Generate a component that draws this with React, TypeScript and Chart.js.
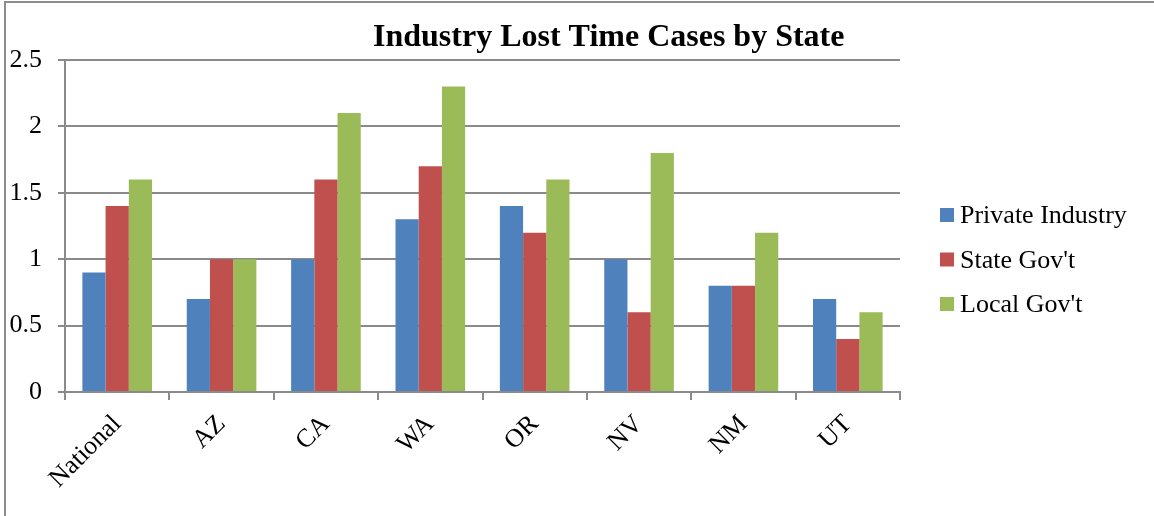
import React, { useEffect, useRef } from "react";
import { Chart, registerables } from "chart.js";

Chart.register(...registerables);

const title = "Industry Lost Time Cases by State";
const categories = ["National", "AZ", "CA", "WA", "OR", "NV", "NM", "UT"];
const privateIndustry = [0.9, 0.7, 1.0, 1.3, 1.4, 1.0, 0.8, 0.7];
const stateGov = [1.4, 1.0, 1.6, 1.7, 1.2, 0.6, 0.8, 0.4];
const localGov = [1.6, 1.0, 2.1, 2.3, 1.6, 1.8, 1.2, 0.6];
const seriesNames = ["Private Industry", "State Gov't", "Local Gov't"];
const seriesColors = ["#4F81BD", "#C0504D", "#9BBB59"];
const yMin = 0;
const yMax = 2.5;
const yStep = 0.5;

const FONT = "'Liberation Serif', 'Times New Roman', serif";
const GRID = "#8a8a8a";

export default function App() {
  const ref = useRef<HTMLCanvasElement | null>(null);

  useEffect(() => {
    document.body.style.margin = "0";
    const canvas = ref.current;
    if (!canvas) return;

    const titlePlugin = {
      id: "customTitle",
      afterDraw(chart: any) {
        const ctx = chart.ctx;
        ctx.save();
        ctx.font = `bold 32px ${FONT}`;
        ctx.fillStyle = "#000";
        ctx.textAlign = "left";
        ctx.textBaseline = "alphabetic";
        ctx.fillText(title, 373, 46);
        ctx.restore();
      },
    };

    const legendPlugin = {
      id: "customLegend",
      afterDraw(chart: any) {
        const ctx = chart.ctx;
        ctx.save();
        ctx.font = `26px ${FONT}`;
        ctx.textAlign = "left";
        ctx.textBaseline = "alphabetic";
        chart.data.datasets.forEach((ds: any, i: number) => {
          const cy = 215 + i * 44.5;
          ctx.fillStyle = ds.backgroundColor;
          ctx.fillRect(940, cy - 7, 14, 14);
          ctx.fillStyle = "#000";
          ctx.fillText(ds.label, 960, cy + 8);
        });
        ctx.restore();
      },
    };

    const data = [privateIndustry, stateGov, localGov];
    const chart = new Chart(canvas, {
      type: "bar",
      data: {
        labels: categories,
        datasets: seriesNames.map((name, i) => ({
          label: name,
          data: data[i],
          backgroundColor: seriesColors[i],
          borderWidth: 0,
          categoryPercentage: 0.667,
          barPercentage: 1.0,
        })),
      },
      options: {
        animation: false,
        responsive: false,
        maintainAspectRatio: false,
        layout: { padding: { top: 60, right: 254, bottom: 0, left: 0 } },
        plugins: {
          legend: { display: false },
          title: { display: false },
          tooltip: { enabled: false },
        },
        scales: {
          x: {
            offset: true,
            grid: {
              offset: true,
              drawOnChartArea: false,
              drawTicks: true,
              tickLength: 8,
              color: GRID,
              lineWidth: 2,
            },
            border: { display: true, color: GRID, width: 2 },
            ticks: {
              color: "#000",
              font: { family: FONT, size: 26 },
              maxRotation: 45,
              minRotation: 45,
              padding: 9,
              autoSkip: false,
            },
            afterFit(scale: any) {
              scale.height = 124;
            },
          },
          y: {
            min: yMin,
            max: yMax,
            grid: {
              drawTicks: true,
              tickLength: 7,
              color: GRID,
              lineWidth: 2,
            },
            border: { display: true, color: GRID, width: 2 },
            ticks: {
              stepSize: yStep,
              color: "#000",
              font: { family: FONT, size: 26 },
              padding: 16,
              callback: (v: any) => String(v),
            },
            afterFit(scale: any) {
              scale.width = 65;
            },
          },
        },
      },
      plugins: [titlePlugin, legendPlugin],
    });
    return () => chart.destroy();
  }, []);

  return (
    <div style={{ position: "relative", width: 1154, height: 516, overflow: "hidden", background: "#fff" }}>
      <canvas ref={ref} width={1154} height={516} style={{ position: "absolute", left: 0, top: 0 }} />
      <div
        style={{
          position: "absolute",
          left: 4,
          top: 1,
          width: 1160,
          height: 530,
          borderTop: "2px solid #8c8c8c",
          borderLeft: "2px solid #8c8c8c",
          pointerEvents: "none",
        }}
      />
    </div>
  );
}
